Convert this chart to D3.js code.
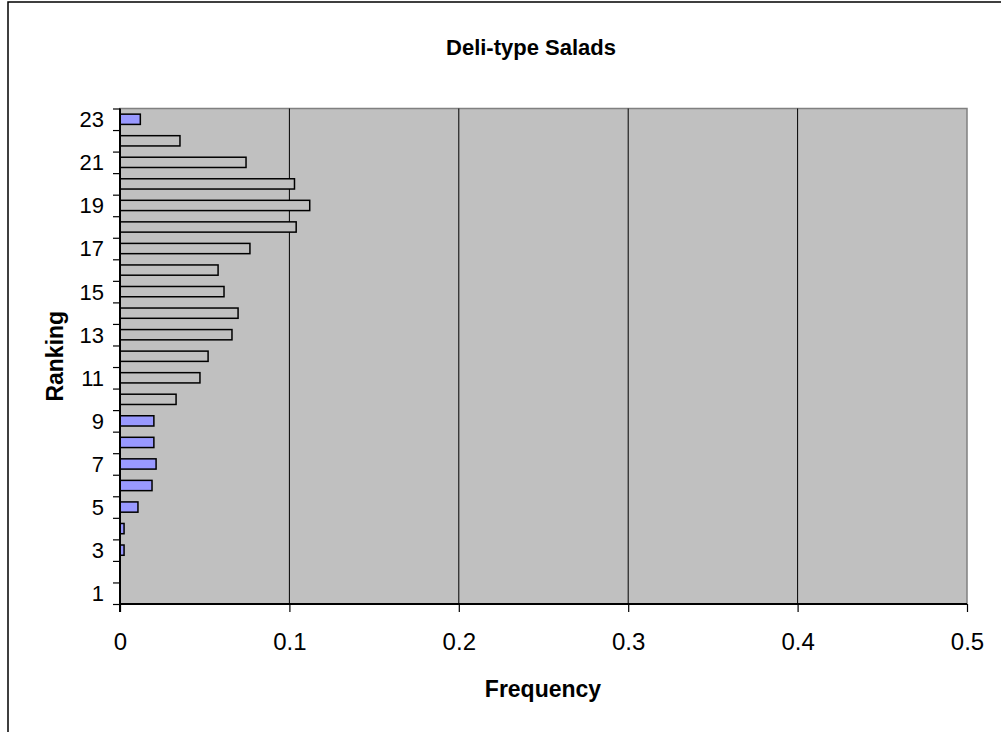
<!DOCTYPE html>
<html>
<head>
<meta charset="utf-8">
<script src="https://cdn.jsdelivr.net/npm/d3@7"></script>
<style>
  html, body { margin: 0; padding: 0; background: #fff; }
  svg { display: block; font-family: "Liberation Sans", Arial, sans-serif; }
</style>
</head>
<body>
<svg id="chart" width="1001" height="732"></svg>
<script>
// ---- data ----
const rankings = [1,2,3,4,5,6,7,8,9,10,11,12,13,14,15,16,17,18,19,20,21,22,23];
const frequency = [0, 0, 0.0024, 0.0024, 0.0106, 0.0189, 0.0213, 0.020, 0.020, 0.0331,
                   0.0472, 0.052, 0.0661, 0.0697, 0.0614, 0.0579, 0.0767, 0.104, 0.112,
                   0.103, 0.0744, 0.0354, 0.012];
const highlighted = [3,4,5,6,7,8,9,23];
const xTicks = [0, 0.1, 0.2, 0.3, 0.4, 0.5];
const yLabels = [1,3,5,7,9,11,13,15,17,19,21,23];
const title = "Deli-type Salads";
const xTitle = "Frequency";
const yTitle = "Ranking";

(function () {
const svg = d3.select("#chart");

// outer chart frame (extends beyond viewport on right/bottom)
svg.append("rect").attr("x", 8).attr("y", 2).attr("width", 1100).attr("height", 800)
  .attr("fill", "#fff").attr("stroke", "#000").attr("stroke-width", 1.5);

const pL = 120, pR = 967, pT = 108.5, pB = 604;

const x = d3.scaleLinear().domain([0, 0.5]).range([pL, pR]);
const yBand = d3.scaleBand().domain(rankings.slice().reverse()).range([pT, pB]).padding(0);
const yLin = d3.scaleLinear().domain([0.5, 23.5]).range([pB, pT]);

// plot area
svg.append("rect").attr("x", pL).attr("y", pT).attr("width", pR - pL).attr("height", pB - pT)
  .attr("fill", "#c0c0c0").attr("stroke", "#808080").attr("stroke-width", 1.5);

// gridlines
svg.append("g").selectAll("line").data(xTicks.filter(d => d > 0 && d < 0.5)).join("line")
  .attr("x1", d => x(d)).attr("x2", d => x(d)).attr("y1", pT).attr("y2", pB)
  .attr("stroke", "#000").attr("stroke-width", 1);

// bars
const bh = yBand.bandwidth() / 2.1;
svg.append("g").selectAll("rect").data(rankings.map((r, i) => ({r, v: frequency[i]})).filter(d => d.v > 0)).join("rect")
  .attr("x", x(0))
  .attr("y", d => yBand(d.r) + yBand.bandwidth() / 2 - bh / 2)
  .attr("width", d => x(d.v) - x(0))
  .attr("height", bh)
  .attr("fill", d => highlighted.includes(d.r) ? "#9999ff" : "#c0c0c0")
  .attr("stroke", "#000").attr("stroke-width", 1.5);

// y axis: ticks at category boundaries
const boundaries = d3.range(0.5, 24, 1);
const yAxis = svg.append("g").attr("transform", `translate(${pL},0)`)
  .call(d3.axisLeft(yLin).tickValues(boundaries).tickSize(7).tickFormat(""));
yAxis.select(".domain").remove();
yAxis.selectAll("line").attr("stroke", "#000").attr("stroke-width", 1.2);
svg.append("line").attr("x1", pL).attr("x2", pL).attr("y1", pT).attr("y2", pB + 8)
  .attr("stroke", "#000").attr("stroke-width", 2);
svg.append("g").selectAll("text").data(yLabels).join("text")
  .attr("x", pL - 16).attr("y", d => yLin(d)).attr("dy", "0.36em")
  .attr("text-anchor", "end").attr("font-size", 22).attr("fill", "#000").text(d => d);

// x axis
const xAxis = svg.append("g").attr("transform", `translate(0,${pB})`)
  .call(d3.axisBottom(x).tickValues(xTicks).tickSize(8).tickPadding(21).tickFormat(d3.format("")));
xAxis.select(".domain").attr("stroke", "#000").attr("stroke-width", 2).attr("d", `M${pL},0H${pR}`);
xAxis.selectAll("line").attr("stroke", "#000").attr("stroke-width", 1.2);
xAxis.selectAll("text").attr("font-size", 24).attr("fill", "#000").attr("font-family", "Liberation Sans, Arial, sans-serif");

// titles
svg.append("text").attr("x", 531).attr("y", 55).attr("text-anchor", "middle")
  .attr("font-size", 22).attr("font-weight", "bold").text(title);
svg.append("text").attr("x", 543).attr("y", 697).attr("text-anchor", "middle")
  .attr("font-size", 23).attr("font-weight", "bold").text(xTitle);
svg.append("text").attr("transform", `translate(63,${(pT + pB) / 2}) rotate(-90)`)
  .attr("text-anchor", "middle").attr("font-size", 23).attr("font-weight", "bold").text(yTitle);
})();
</script>
</body>
</html>
